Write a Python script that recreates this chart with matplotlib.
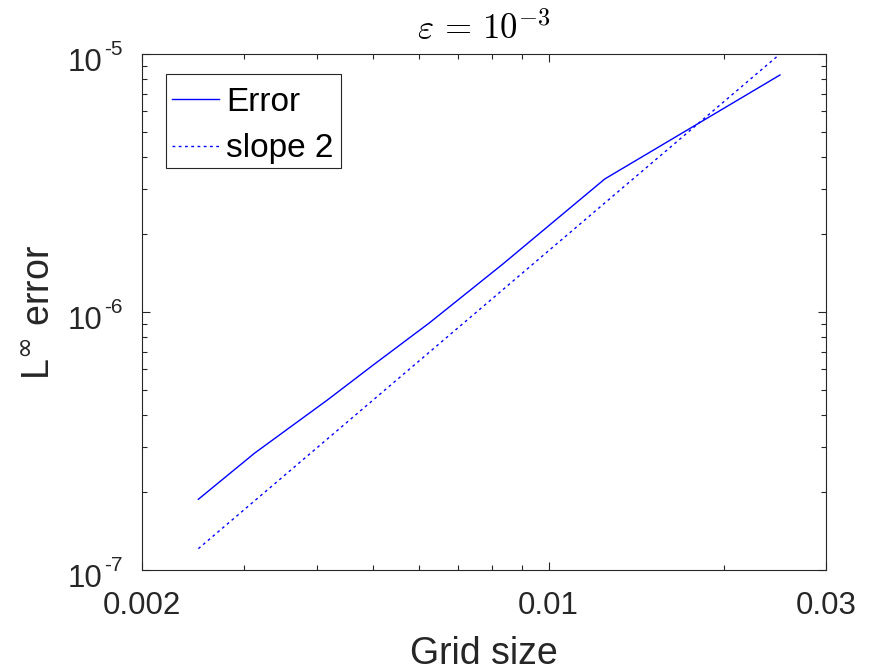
import matplotlib
matplotlib.use("Agg")
import matplotlib.pyplot as plt
from matplotlib.patches import Rectangle
from matplotlib.ticker import FixedLocator, NullFormatter

# Convergence data: grid spacing vs. max-norm error
grid_size = [0.0025, 0.003125, 0.004167, 0.005, 0.00625, 0.008333, 0.0125, 0.025]
linf_error = [1.88e-7, 2.84e-7, 4.56e-7, 6.24e-7, 9.1e-7, 1.53e-6, 3.28e-6, 8.29e-6]

# Second-order reference line
ref_h = [0.0025, 0.025]
ref_err = [1.21e-7, 1.0e-5]

x_ticks = [0.002, 0.01, 0.03]
x_tick_labels = ["0.002", "0.01", "0.03"]
y_ticks = [1e-7, 1e-6, 1e-5]
y_exponents = ["-7", "-6", "-5"]

plt.rcParams["font.family"] = ["Liberation Sans", "DejaVu Sans"]
plt.rcParams["mathtext.fontset"] = "custom"
plt.rcParams["mathtext.rm"] = "Liberation Sans"
plt.rcParams["mathtext.it"] = "Liberation Sans"

W, H = 872, 671
fig = plt.figure(figsize=(W / 100, H / 100), dpi=100)
left, right, top, bottom = 142, 826, 54, 570
ax = fig.add_axes([left / W, 1 - bottom / H, (right - left) / W, (bottom - top) / H])


def ax_x(px):
    return (px - left) / (right - left)


def ax_y(py):
    return (bottom - py) / (bottom - top)


dark = "#262626"
ax.loglog(grid_size, linf_error, color="blue", lw=1.0, label="Error")
ax.loglog(ref_h, ref_err, color="blue", lw=1.0, linestyle=(0, (2.0, 2.5)), label="slope 2")

ax.set_xlim(0.002, 0.03)
ax.set_ylim(1e-7, 1e-5)

ax.xaxis.set_major_locator(FixedLocator(x_ticks))
ax.set_xticklabels(x_tick_labels)
ax.xaxis.set_minor_locator(FixedLocator([0.003, 0.004, 0.005, 0.006, 0.007, 0.008, 0.009, 0.02]))
ax.xaxis.set_minor_formatter(NullFormatter())

ax.yaxis.set_major_locator(FixedLocator(y_ticks))
ax.set_yticklabels([])
minor_y = [m * d for d in (1e-7, 1e-6) for m in range(2, 10)]
ax.yaxis.set_minor_locator(FixedLocator(minor_y))
ax.yaxis.set_minor_formatter(NullFormatter())

ax.tick_params(which="both", direction="in", top=True, right=True, color=dark, width=0.8)
ax.tick_params(which="major", length=6)
ax.tick_params(which="minor", length=3.5)
ax.tick_params(axis="x", which="major", labelsize=22.5, pad=15, labelcolor=dark)
for s in ax.spines.values():
    s.set_color(dark)
    s.set_linewidth(0.8)

# Power-of-ten labels on the y axis, drawn as base plus raised exponent
for val, ex in zip(y_ticks, y_exponents):
    ax.annotate("10", xy=(0, val), xycoords=("axes fraction", "data"),
                xytext=(-28.5, -6.5), textcoords="offset points",
                ha="right", va="center", fontsize=22.5, color=dark)
    ax.annotate(ex, xy=(0, val), xycoords=("axes fraction", "data"),
                xytext=(-27.5, 3.5), textcoords="offset points",
                ha="left", va="center", fontsize=15, color=dark)

ax.set_xlabel("Grid size", fontsize=27, color=dark)
ax.xaxis.set_label_coords(0.5, ax_y(636))
ax.xaxis.label.set_va("top")

ax.set_ylabel(r"L$^{\infty}$ error", fontsize=27, color=dark, math_fontfamily="dejavusans")
ax.yaxis.set_label_coords(ax_x(57), 0.5)

ax.set_title(r"$\varepsilon\,=\,10^{-3}$", fontsize=25, pad=11, math_fontfamily="cm")

# Legend entries without their own frame; the box is drawn separately
leg = ax.legend(loc="upper left", bbox_to_anchor=(ax_x(172), ax_y(87)),
                borderaxespad=0, borderpad=0, fontsize=24, handlelength=1.42,
                handletextpad=0.21, labelspacing=0.46, frameon=False)
ax.add_patch(Rectangle((ax_x(166), ax_y(168)), ax_x(341) - ax_x(166), ax_y(74) - ax_y(168),
                       transform=ax.transAxes, facecolor="none", edgecolor=dark,
                       lw=0.8, zorder=5))

fig.savefig("out.png", dpi=100)
